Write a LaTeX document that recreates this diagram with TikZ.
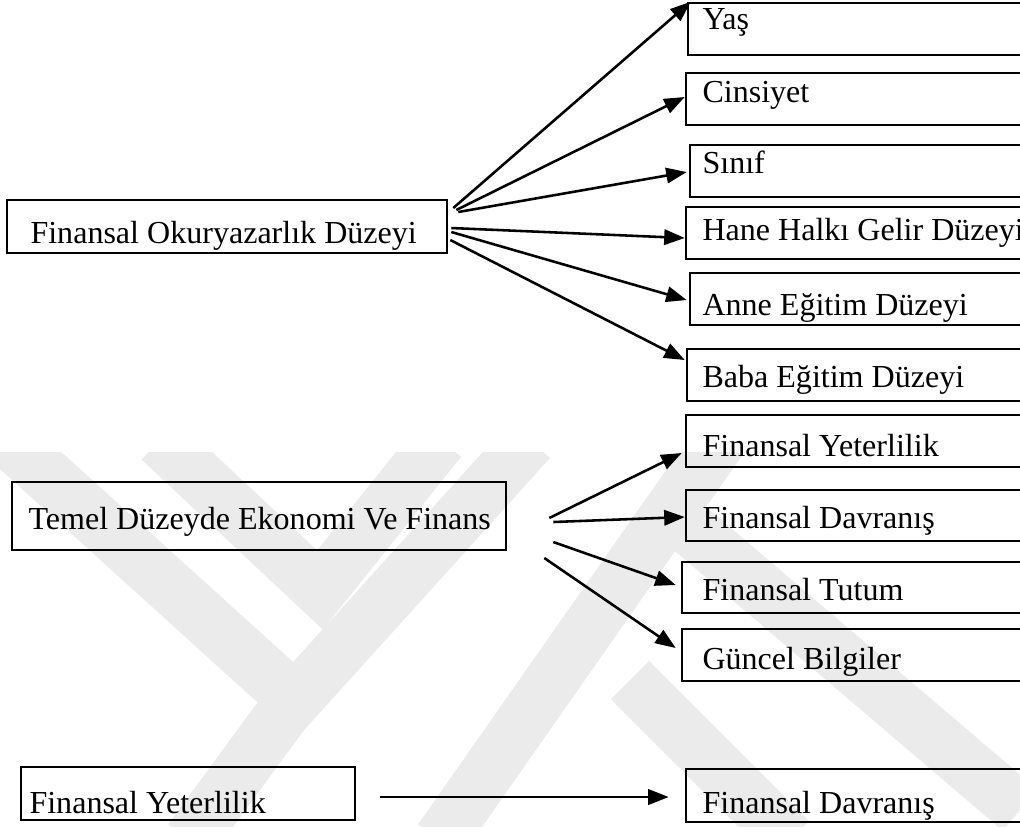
\documentclass[tikz,border=0pt]{standalone}
\usepackage{fontspec}
\setmainfont{Liberation Serif}
\usetikzlibrary{arrows.meta,fit}
\tikzset{
  box/.style={draw, line width=1pt, inner sep=0pt},
  lbl/.style={anchor=base west, inner sep=0pt, font=\fontsize{12.5}{15}\selectfont},
  arr/.style={line width=1pt, -{Triangle[length=8pt,width=6pt]}},
  wmark/.style={line width=21pt, black!8, line cap=butt, line join=miter}
}
\begin{document}
\begin{tikzpicture}[x=0.39pt,y=-0.39pt]
\useasboundingbox (0,0) rectangle (1020,826);
\clip (0,0) rectangle (1020,826);
%% faint logo in the background
\begin{scope}
\clip (0,452) rectangle (1020,826);
\draw[wmark] (8,440) -- (295,700) -- (530,440);
\draw[wmark] (160,440) -- (320,590) -- (440,440);
\draw[wmark] (300,690) -- (190,840);
\draw[wmark] (720,440) -- (440,840);
\draw[wmark] (630,680) -- (790,840);
\draw[wmark] (680,520) -- (1020,810);
\end{scope}
%% left boxes
\node[box, fit={(7,200) (447,253)}] (fod) {};
\node[lbl] at (30,243) {Finansal Okuryazarlık Düzeyi};
\node[box, fit={(12,482) (506,550)}] (temel) {};
\node[lbl] at (28,529) {Temel Düzeyde Ekonomi Ve Finans};
\node[box, fit={(21,767) (355,820)}] (fy2) {};
\node[lbl] at (29,813) {Finansal Yeterlilik};
%% right boxes: name/left/top/bottom/baseline/text
\foreach \nm/\l/\t/\b/\bl/\txt in {
  yas/688/3/55/29/Yaş,
  cin/686/73/125/102/Cinsiyet,
  sinif/690/145/197/173/Sınıf,
  hane/686/207/259/240/Hane Halkı Gelir Düzeyi,
  anne/690/273/325/315/Anne Eğitim Düzeyi,
  baba/687/349/401/387/Baba Eğitim Düzeyi,
  fy/686/415/467/456/Finansal Yeterlilik,
  fd/686/490/541/528/Finansal Davranış,
  tutum/682/562/613/600/Finansal Tutum,
  guncel/682/629/681/669/Güncel Bilgiler,
  fd2/686/769/822/813/Finansal Davranış}
{
  \node[box, fit={(\l,\t) (1040,\b)}] (\nm) {};
  \node[lbl] at (702,\bl) {\txt};
}
%% arrows
\draw[arr] ([shift={(5,-18.5)}]fod.east) -- ([shift={(4,0)}]yas.north west);
\draw[arr] ([shift={(8,-16.5)}]fod.east) -- ([shift={(0,-2)}]cin.west);
\draw[arr] ([shift={(10,-14.5)}]fod.east) -- ([shift={(-2,1)}]sinif.west);
\draw[arr] ([shift={(3,1.5)}]fod.east) -- ([shift={(0,5)}]hane.west);
\draw[arr] ([shift={(3,5.5)}]fod.east) -- ([shift={(-2,1)}]anne.west);
\draw[arr] ([shift={(2,13.5)}]fod.east) -- ([shift={(-1,-15)}]baba.west);
%
\draw[arr] ([shift={(42,2)}]temel.east) -- ([shift={(-3,12)}]fy.west);
\draw[arr] ([shift={(46,6)}]temel.east) -- ([shift={(0,1.5)}]fd.west);
\draw[arr] ([shift={(46,26)}]temel.east) -- ([shift={(-5,-2.5)}]tutum.west);
\draw[arr] ([shift={(37,42)}]temel.east) -- ([shift={(-5,-7)}]guncel.west);
%
\draw[arr] ([shift={(24,3.5)}]fy2.east) -- ([shift={(-16,1.5)}]fd2.west);
\end{tikzpicture}
\end{document}
